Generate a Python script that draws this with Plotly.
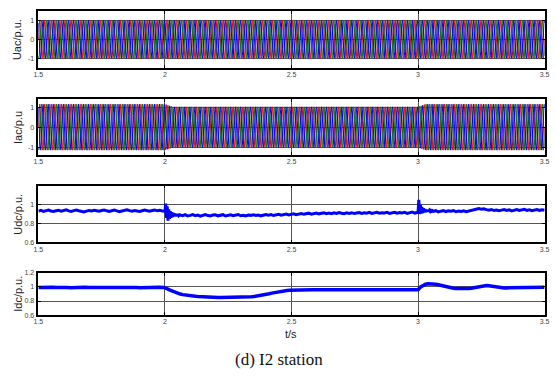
import numpy as np
import plotly.graph_objects as go

# ---------------- data ----------------
t_start, t_end = 1.5, 3.5
freq_hz = 50
phase_colors = ["#ff0000", "#008000", "#0000ff"]
phase_shift_deg = [0, -120, 120]

# envelope of the three-phase AC voltage (p.u.)
uac_env_t = [1.5, 2.0, 2.02, 3.0, 3.02, 3.5]
uac_env_a = [1.0, 1.0, 1.0, 1.0, 1.0, 1.0]
# envelope of the three-phase AC current (p.u.)
iac_env_t = [1.5, 2.0, 2.03, 3.0, 3.03, 3.5]
iac_env_a = [1.15, 1.15, 1.02, 1.02, 1.15, 1.15]

# DC voltage (p.u.) segments
udc_pre = [0.930, 0.938, 0.928, 0.936, 0.941, 0.932, 0.926, 0.934, 0.940, 0.931,
           0.937, 0.944, 0.933, 0.928, 0.936, 0.942, 0.934, 0.929, 0.921, 0.930,
           0.938, 0.932, 0.940, 0.935, 0.929, 0.937, 0.943, 0.934, 0.927, 0.935,
           0.941, 0.933, 0.925, 0.932, 0.939, 0.945, 0.936, 0.930, 0.938, 0.931,
           0.926, 0.934, 0.941, 0.935, 0.929, 0.937, 0.943, 0.934, 0.939, 0.932]
udc_tr1 = [0.930, 1.010, 0.860, 0.980, 0.830, 0.950, 0.850, 0.930, 0.860, 0.920,
           0.870, 0.910, 0.875, 0.905, 0.878, 0.900, 0.880, 0.897, 0.883, 0.893]
udc_mid = [0.890, 0.882, 0.893, 0.879, 0.886, 0.894, 0.883, 0.889, 0.878, 0.887,
           0.895, 0.884, 0.880, 0.889, 0.892, 0.881, 0.887, 0.893, 0.879, 0.885,
           0.891, 0.883, 0.888, 0.895, 0.882, 0.887, 0.880, 0.890, 0.886, 0.893,
           0.884, 0.890, 0.881, 0.888, 0.894,
           0.888, 0.895, 0.884, 0.892, 0.898, 0.887, 0.894, 0.900, 0.891, 0.897,
           0.903, 0.894, 0.900, 0.906, 0.897, 0.903, 0.909, 0.899, 0.905, 0.911,
           0.902, 0.908, 0.913, 0.904, 0.910, 0.903, 0.912, 0.906, 0.915, 0.908,
           0.903, 0.912, 0.907, 0.914, 0.905, 0.911, 0.916, 0.907, 0.913, 0.909,
           0.917, 0.906, 0.912, 0.918, 0.908, 0.914, 0.910, 0.917, 0.906, 0.913,
           0.919, 0.909, 0.915, 0.911, 0.918, 0.907, 0.914, 0.920, 0.910, 0.916]
udc_tr2 = [0.918, 1.050, 0.900, 1.000, 0.905, 0.975, 0.912, 0.960, 0.918, 0.952,
           0.920, 0.946, 0.924, 0.942, 0.926, 0.940, 0.928, 0.938, 0.930, 0.936]
udc_post = [0.928, 0.935, 0.922, 0.930, 0.937, 0.926, 0.933, 0.929, 0.936, 0.924,
            0.932, 0.927, 0.934, 0.925, 0.933, 0.939, 0.944, 0.952, 0.958, 0.950,
            0.955, 0.946, 0.940, 0.948, 0.937, 0.943, 0.935, 0.941, 0.947, 0.938,
            0.944, 0.933, 0.940, 0.946, 0.937, 0.943, 0.949, 0.938, 0.944, 0.935,
            0.942, 0.948, 0.939, 0.945, 0.940]
udc_seg_bounds = [(1.5, 1.99), (2.0, 2.057), (2.06, 2.997), (3.0, 3.057), (3.06, 3.5)]

# DC current (p.u.) segments
idc_pre = [0.993, 0.996, 0.991, 0.995, 0.992, 0.997, 0.993, 0.990, 0.995, 0.992,
           0.996, 0.993, 0.991, 0.995, 0.998, 0.993, 0.991, 0.994, 0.996, 0.992,
           0.995, 0.993, 0.990, 0.994, 0.997, 0.992, 0.995, 0.993]
idc_post = [0.990, 0.972, 0.955, 0.939, 0.925, 0.912, 0.900, 0.891, 0.884, 0.878,
            0.874, 0.870, 0.867, 0.864, 0.861, 0.859, 0.857, 0.855, 0.854, 0.853,
            0.852, 0.851, 0.850, 0.850, 0.849, 0.849, 0.849, 0.850, 0.850, 0.851,
            0.852, 0.853, 0.855, 0.857, 0.860, 0.864, 0.869, 0.875, 0.882, 0.889,
            0.897, 0.905, 0.913, 0.921, 0.928, 0.935, 0.941, 0.946, 0.950, 0.953,
            0.955, 0.957, 0.958, 0.958, 0.959, 0.959, 0.960, 0.959, 0.960, 0.960,
            0.959, 0.960, 0.961, 0.960, 0.960, 0.961, 0.960, 0.961, 0.961, 0.960,
            0.961, 0.962, 0.961, 0.961, 0.962, 0.961, 0.962, 0.962, 0.961, 0.962,
            0.962, 0.961, 0.962, 0.962, 0.962, 0.961, 0.962, 0.962, 0.962, 0.962,
            0.962, 0.962, 0.962, 0.962, 0.962, 0.962, 0.962, 0.962, 0.962, 0.962]
idc_post3 = [0.962, 1.000, 1.025, 1.040, 1.047, 1.048, 1.045, 1.040, 1.032, 1.022,
             1.012, 1.003, 0.995, 0.988, 0.983, 0.979, 0.977, 0.976, 0.976, 0.977,
             0.979, 0.983, 0.990, 1.000, 1.010, 1.018, 1.022, 1.022, 1.018, 1.011,
             1.004, 0.997, 0.992, 0.989, 0.987, 0.987, 0.988, 0.990, 0.992, 0.993,
             0.994, 0.995, 0.995, 0.996, 0.995, 0.996, 0.996, 0.995, 0.996, 0.996,
             0.996]
idc_seg_bounds = [(1.5, 1.995), (2.0, 2.995), (3.0, 3.5)]

x_ticks = [1.5, 2, 2.5, 3, 3.5]
x_tick_text = ["1.5", "2", "2.5", "3", "3.5"]
ac_ticks = [-1, 0, 1]
ac_tick_text = ["-1", "0", "1"]
udc_ticks = [0.6, 0.8, 1.0]
udc_tick_text = ["0.6", "0.8", "1"]
idc_ticks = [0.6, 0.8, 1.0, 1.2]
idc_tick_text = ["0.6", "0.8", "1", "1.2"]
y_titles = ["Uac/p.u.", "Iac/p.u", "Udc/p.u.", "Idc/p.u."]
x_title = "t/s"
caption = "(d) I2 station"

# ---------------- build ----------------
t = np.linspace(t_start, t_end, 4001)
fig = go.Figure()

for env_t, env_a, ax in [(uac_env_t, uac_env_a, ""), (iac_env_t, iac_env_a, "2")]:
    amp = np.interp(t, env_t, env_a)
    for col, sh in zip(phase_colors, phase_shift_deg):
        y = amp * np.sin(2 * np.pi * freq_hz * t + np.deg2rad(sh))
        fig.add_trace(go.Scatter(x=t, y=y, mode="lines", line=dict(color=col, width=1),
                                 xaxis="x" + ax, yaxis="y" + ax, showlegend=False,
                                 hoverinfo="skip"))


def seg_concat(segs, bounds):
    xs, ys = [], []
    for vals, (a, b) in zip(segs, bounds):
        xs.extend(np.linspace(a, b, len(vals)))
        ys.extend(vals)
    return xs, ys


ux, uy = seg_concat([udc_pre, udc_tr1, udc_mid, udc_tr2, udc_post], udc_seg_bounds)
fig.add_trace(go.Scatter(x=ux, y=uy, mode="lines", line=dict(color="#0000ff", width=3),
                         xaxis="x3", yaxis="y3", showlegend=False))
ix, iy = seg_concat([idc_pre, idc_post, idc_post3], idc_seg_bounds)
fig.add_trace(go.Scatter(x=ix, y=iy, mode="lines", line=dict(color="#0000ff", width=3.5),
                         xaxis="x4", yaxis="y4", showlegend=False))

W, H = 556, 377
x_dom = [34 / W, 549.5 / W]
panels_px = [(7, 65), (97, 154), (185, 243), (274, 317)]
y_doms = [[1 - b / H, 1 - a / H] for a, b in panels_px]

tick_font = dict(family="Arial", size=7, color="#444444")
grid_col = "#555555"
axis_common = dict(showline=True, linecolor="black", linewidth=1.5, mirror="allticks",
                   ticks="inside", ticklen=3, tickcolor="black", tickfont=tick_font,
                   zeroline=False, showgrid=True, gridcolor=grid_col, gridwidth=1)

y_specs = [
    ([-1.5, 1.5], ac_ticks, ac_tick_text),
    ([-1.4, 1.4], ac_ticks, ac_tick_text),
    ([0.6, 1.2], udc_ticks, udc_tick_text),
    ([0.6, 1.2], idc_ticks, idc_tick_text),
]

layout = dict(width=W, height=H, margin=dict(l=0, r=0, t=0, b=0),
              paper_bgcolor="white", plot_bgcolor="white", showlegend=False)
for i in range(4):
    sfx = "" if i == 0 else str(i + 1)
    rng, tv, tt = y_specs[i]
    layout["xaxis" + sfx] = dict(axis_common, domain=x_dom, range=[t_start, t_end],
                                 tickvals=x_ticks, ticktext=x_tick_text,
                                 anchor="y" + sfx, ticklabelstandoff=-1)
    layout["yaxis" + sfx] = dict(axis_common, domain=y_doms[i], range=rng,
                                 tickvals=tv, ticktext=tt, anchor="x" + sfx,
                                 ticklabelstandoff=1)
fig.update_layout(**layout)

annotations = []
for i, title in enumerate(y_titles):
    a, b = panels_px[i]
    annotations.append(dict(text=title, x=13 / W, y=1 - (a + b) / 2 / H, xref="paper",
                            yref="paper", showarrow=False, textangle=-90,
                            font=dict(family="Arial", size=11, color="#222222"),
                            xanchor="center", yanchor="middle"))
annotations.append(dict(text=x_title, x=291 / W, y=1 - 336 / H, xref="paper", yref="paper",
                        showarrow=False, font=dict(family="Arial", size=11, color="#222222"),
                        xanchor="center", yanchor="middle"))
annotations.append(dict(text=caption, x=279 / W, y=1 - 362 / H, xref="paper", yref="paper",
                        showarrow=False,
                        font=dict(family="Liberation Serif", size=17, color="#111111"),
                        xanchor="center", yanchor="middle"))
fig.update_layout(annotations=annotations)

fig.write_html("out.html")
